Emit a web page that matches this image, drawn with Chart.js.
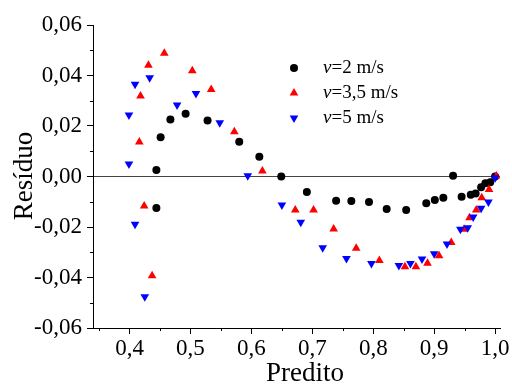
<!DOCTYPE html>
<html><head><meta charset="utf-8">
<script src="https://cdn.jsdelivr.net/npm/chart.js@4"></script>
<style>html,body{margin:0;padding:0;background:#fff}</style>
</head><body>
<canvas id="c" width="512" height="385" style="display:block;width:512px;height:385px"></canvas>
<script>
const seriesLabels = ['v=2 m/s', 'v=3,5 m/s', 'v=5 m/s'];
const xTitle = 'Predito';
const yTitle = 'Resíduo';

const x2 = [0.444, 0.444, 0.451, 0.467, 0.492, 0.528, 0.580, 0.613, 0.649, 0.691, 0.739, 0.764, 0.793, 0.822, 0.854, 0.887, 0.901, 0.915, 0.931, 0.945, 0.960, 0.968, 0.977, 0.984, 0.992, 1.000];
const y2 = [-0.0125, 0.0026, 0.0155, 0.0226, 0.0249, 0.0222, 0.0138, 0.0078, 0.0000, -0.0061, -0.0096, -0.0097, -0.0101, -0.0129, -0.0133, -0.0106, -0.0093, -0.0084, 0.0003, -0.0080, -0.0072, -0.0067, -0.0043, -0.0027, -0.0023, 0.0000];

const x35 = [0.416, 0.418, 0.424, 0.431, 0.437, 0.457, 0.503, 0.534, 0.572, 0.618, 0.672, 0.702, 0.735, 0.772, 0.810, 0.852, 0.870, 0.889, 0.908, 0.928, 0.949, 0.958, 0.969, 0.978, 0.990, 1.002];
const y35 = [0.0137, 0.0319, -0.0117, 0.0441, -0.0393, 0.0488, 0.0419, 0.0345, 0.0177, 0.0022, -0.0133, -0.0133, -0.0208, -0.0284, -0.0333, -0.0357, -0.0357, -0.0344, -0.0314, -0.0261, -0.0209, -0.0163, -0.0133, -0.0084, -0.0051, 0.0002];

const x5 = [0.399, 0.399, 0.409, 0.409, 0.425, 0.433, 0.478, 0.509, 0.548, 0.594, 0.650, 0.681, 0.717, 0.756, 0.797, 0.842, 0.861, 0.880, 0.900, 0.921, 0.943, 0.955, 0.964, 0.977, 0.989, 1.000];
const y5 = [0.0050, 0.0244, -0.0189, 0.0365, -0.0476, 0.0391, 0.0283, 0.0329, 0.0213, 0.0003, -0.0113, -0.0181, -0.0282, -0.0325, -0.0345, -0.0352, -0.0345, -0.0327, -0.0306, -0.0267, -0.0209, -0.0203, -0.0160, -0.0126, -0.0101, -0.0005];

const xTicks = [0.4, 0.5, 0.6, 0.7, 0.8, 0.9, 1.0];
const xTickLabels = ['0,4', '0,5', '0,6', '0,7', '0,8', '0,9', '1,0'];
const xMinor = [0.35, 0.45, 0.55, 0.65, 0.75, 0.85, 0.95];
const yTicks = [-0.06, -0.04, -0.02, 0.00, 0.02, 0.04, 0.06];
const yTickLabels = ['-0,06', '-0,04', '-0,02', '0,00', '0,02', '0,04', '0,06'];
const yMinor = [-0.05, -0.03, -0.01, 0.01, 0.03, 0.05];

const colors = ['#000000', '#ff0000', '#0000ff'];
const styles = ['circle', 'triangle', 'triangle'];
const rotations = [0, 0, 180];
const radii = [4, 5, 5];

const FONT = '"Liberation Serif", "Times New Roman", serif';

function pts(xs, ys) { return xs.map((x, i) => ({ x: x, y: ys[i] })); }

function drawMarker(ctx, style, rot, r, x, y, color) {
  ctx.save();
  ctx.fillStyle = color;
  ctx.beginPath();
  if (style === 'circle') {
    ctx.arc(x, y, r, 0, Math.PI * 2);
  } else {
    let rad = rot * Math.PI / 180;
    ctx.moveTo(x + Math.sin(rad) * r, y - Math.cos(rad) * r);
    rad += 2 * Math.PI / 3;
    ctx.lineTo(x + Math.sin(rad) * r, y - Math.cos(rad) * r);
    rad += 2 * Math.PI / 3;
    ctx.lineTo(x + Math.sin(rad) * r, y - Math.cos(rad) * r);
    ctx.closePath();
  }
  ctx.fill();
  ctx.restore();
}

const extras = {
  id: 'extras',
  afterDraw(chart) {
    const ctx = chart.ctx;
    const xs = chart.scales.x, ys = chart.scales.y;
    ctx.save();
    ctx.strokeStyle = '#000';
    ctx.lineWidth = 1;
    // minor ticks
    ctx.beginPath();
    xMinor.forEach(v => {
      const px = Math.round(xs.getPixelForValue(v)) + 0.5;
      ctx.moveTo(px, xs.top); ctx.lineTo(px, xs.top + 3);
    });
    yMinor.forEach(v => {
      const py = Math.round(ys.getPixelForValue(v)) + 0.5;
      ctx.moveTo(ys.right, py); ctx.lineTo(ys.right - 3, py);
    });
    ctx.stroke();
    // axis titles
    ctx.fillStyle = '#000';
    ctx.font = '27px ' + FONT;
    ctx.textAlign = 'center';
    ctx.textBaseline = 'alphabetic';
    ctx.fillText(xTitle, 305, 381);
    ctx.save();
    ctx.translate(32, 176);
    ctx.rotate(-Math.PI / 2);
    ctx.fillText(yTitle, 0, 0);
    ctx.restore();
    // legend
    const rows = [68, 93, 118];
    chart.data.datasets.forEach((ds, i) => {
      drawMarker(ctx, styles[i], rotations[i], radii[i], 294, rows[i], colors[i]);
      const lab = seriesLabels[i];
      ctx.textAlign = 'left';
      ctx.textBaseline = 'middle';
      ctx.font = 'italic 19px ' + FONT;
      ctx.fillText(lab[0], 323, rows[i]);
      const w = ctx.measureText(lab[0]).width;
      ctx.font = '19px ' + FONT;
      ctx.fillText(lab.slice(1), 323 + w, rows[i]);
    });
    ctx.restore();
  }
};

const datasets = [
  { label: seriesLabels[0], data: pts(x2, y2), order: 2 },
  { label: seriesLabels[1], data: pts(x35, y35), order: 1 },
  { label: seriesLabels[2], data: pts(x5, y5), order: 0 }
].map((d, i) => Object.assign(d, {
  pointStyle: styles[i],
  rotation: rotations[i],
  pointRadius: radii[i],
  pointHoverRadius: radii[i],
  backgroundColor: colors[i],
  borderColor: colors[i],
  borderWidth: 0,
  showLine: false
}));

new Chart(document.getElementById('c'), {
  type: 'scatter',
  data: { datasets: datasets },
  options: {
    responsive: false,
    animation: false,
    devicePixelRatio: 1,
    layout: { padding: { top: 25, right: 12, left: 0, bottom: 0 } },
    plugins: { legend: { display: false }, tooltip: { enabled: false } },
    scales: {
      x: {
        type: 'linear', min: 0.34, max: 1.008,
        afterBuildTicks: s => { s.ticks = xTicks.map(v => ({ value: v })); },
        afterFit: s => { s.height = 57; },
        ticks: { callback: (v, i) => xTickLabels[i], font: { family: FONT, size: 23 }, color: '#000', padding: 1, maxRotation: 0, autoSkip: false },
        grid: { drawOnChartArea: false, tickLength: 6, tickColor: '#000', lineWidth: 1 },
        border: { color: '#000', width: 1 }
      },
      y: {
        type: 'linear', min: -0.06, max: 0.06,
        afterBuildTicks: s => { s.ticks = yTicks.map(v => ({ value: v })); },
        afterFit: s => { s.width = 93; },
        ticks: { callback: (v, i) => yTickLabels[i], font: { family: FONT, size: 23 }, color: '#000', padding: 5, autoSkip: false },
        grid: { drawOnChartArea: true, color: c => (c.tick && Math.abs(c.tick.value) < 1e-9) ? '#444444' : 'rgba(0,0,0,0)', tickLength: 6, tickColor: '#000', lineWidth: 1 },
        border: { color: '#000', width: 1 }
      }
    }
  },
  plugins: [extras]
});
</script>
</body></html>
